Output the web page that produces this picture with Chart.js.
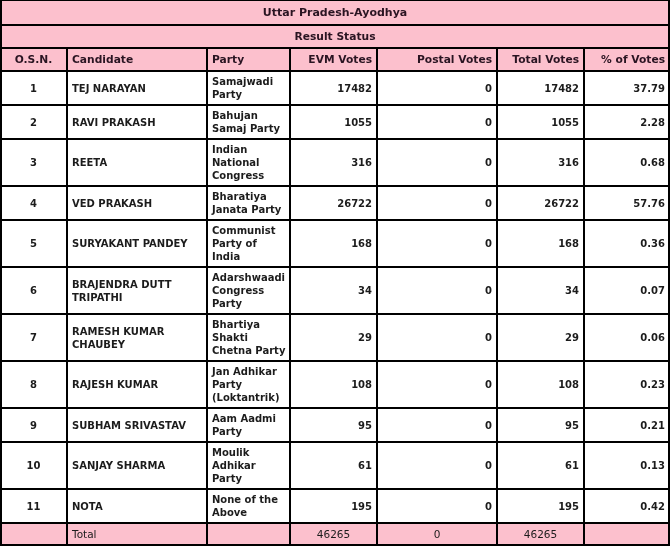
<!DOCTYPE html>
<html>
<head>
<meta charset="utf-8">
<title>Uttar Pradesh-Ayodhya</title>
<script src="https://cdn.jsdelivr.net/npm/chart.js@4.4.0/dist/chart.umd.min.js"></script>
<style>
    html, body { margin: 0; padding: 0; background: #fff; }
    #wrap { width: 670px; height: 547px; }
</style>
</head>
<body>
<div id="wrap"><canvas id="resultTable" width="670" height="547"></canvas></div>
<script>
// result-table.js - Ayodhya result status, drawn on a Chart.js canvas

const tableTitle = 'Uttar Pradesh-Ayodhya';
const tableSubtitle = 'Result Status';
const headers = ['O.S.N.', 'Candidate', 'Party', 'EVM Votes', 'Postal Votes', 'Total Votes', '% of Votes'];

const osn = [1, 2, 3, 4, 5, 6, 7, 8, 9, 10, 11];
const candidates = [
    'TEJ NARAYAN', 'RAVI PRAKASH', 'REETA', 'VED PRAKASH', 'SURYAKANT PANDEY',
    'BRAJENDRA DUTT\nTRIPATHI', 'RAMESH KUMAR\nCHAUBEY', 'RAJESH KUMAR',
    'SUBHAM SRIVASTAV', 'SANJAY SHARMA', 'NOTA'
];
const parties = [
    'Samajwadi\nParty', 'Bahujan\nSamaj Party', 'Indian\nNational\nCongress',
    'Bharatiya\nJanata Party', 'Communist\nParty of\nIndia', 'Adarshwaadi\nCongress\nParty',
    'Bhartiya\nShakti\nChetna Party', 'Jan Adhikar\nParty\n(Loktantrik)', 'Aam Aadmi\nParty',
    'Moulik\nAdhikar\nParty', 'None of the\nAbove'
];
const evmVotes = [17482, 1055, 316, 26722, 168, 34, 29, 108, 95, 61, 195];
const postalVotes = [0, 0, 0, 0, 0, 0, 0, 0, 0, 0, 0];
const totalVotes = [17482, 1055, 316, 26722, 168, 34, 29, 108, 95, 61, 195];
const votePercent = [37.79, 2.28, 0.68, 57.76, 0.36, 0.07, 0.06, 0.23, 0.21, 0.13, 0.42];
const totalsRow = ['', 'Total', '', '46265', '0', '46265', ''];

// layout
const colWidths = [67, 140, 83, 87, 120, 87, 86];
const TABLE_W = 670;
const TABLE_H = 547;
const LINE_H = 13;
const CELL_PAD = 8;
const PINK = '#fcc0cd';
const INK = '#1c1c1c';
const HEAD_INK = '#2a1422';
const FONT = '"DejaVu Sans", Verdana, sans-serif';

const colEdges = colWidths.reduce((acc, w) => { acc.push(acc[acc.length - 1] + w); return acc; }, [0]);

function buildRows() {
    const rows = [];
    rows.push({ kind: 'title', text: tableTitle, h: 25, font: 'bold 11px ' + FONT });
    rows.push({ kind: 'title', text: tableSubtitle, h: 23, font: 'bold 10.7px ' + FONT });
    rows.push({ kind: 'header', cells: headers, h: 23 });
    osn.forEach((n, i) => {
        const cells = [
            String(n), candidates[i], parties[i],
            String(evmVotes[i]), String(postalVotes[i]), String(totalVotes[i]),
            votePercent[i].toFixed(2)
        ];
        const lines = Math.max(...cells.map(c => c.split('\n').length), 2);
        rows.push({ kind: 'data', cells, h: lines * LINE_H + CELL_PAD });
    });
    rows.push({ kind: 'total', cells: totalsRow, h: 23 });
    let top = 0;
    rows.forEach(r => { r.top = top; top += r.h; });
    return rows;
}

const alignBody = ['center', 'left', 'left', 'right', 'right', 'right', 'right'];
const alignTotal = ['left', 'left', 'left', 'center', 'center', 'center', 'center'];

const tablePlugin = {
    id: 'resultTable',
    afterDraw(chart) {
        const { ctx, scales: { x, y } } = chart;
        const px = v => x.getPixelForValue(v);
        const py = v => y.getPixelForValue(v);
        const rows = buildRows();

        ctx.save();
        ctx.textBaseline = 'middle';

        rows.forEach(r => {
            const y0 = py(r.top), y1 = py(r.top + r.h);
            ctx.fillStyle = r.kind === 'data' ? '#ffffff' : PINK;
            ctx.fillRect(px(0), y0, px(TABLE_W) - px(0), y1 - y0);

            if (r.kind === 'title') {
                ctx.fillStyle = HEAD_INK;
                ctx.font = r.font;
                ctx.textAlign = 'center';
                ctx.fillText(r.text, px(TABLE_W / 2), (y0 + y1) / 2 + 1);
                return;
            }
            if (r.kind === 'header') {
                ctx.fillStyle = HEAD_INK;
                ctx.font = 'bold 10.7px ' + FONT;
            } else if (r.kind === 'total') {
                ctx.fillStyle = INK;
                ctx.font = '10.5px ' + FONT;
            } else {
                ctx.fillStyle = INK;
                ctx.font = 'bold 10px ' + FONT;
            }
            const aligns = r.kind === 'total' ? alignTotal : alignBody;
            r.cells.forEach((txt, c) => {
                if (!txt) return;
                const left = px(colEdges[c]), right = px(colEdges[c + 1]);
                const align = aligns[c];
                let tx;
                if (align === 'left') tx = left + 5;
                else if (align === 'right') tx = right - 5;
                else tx = (left + right) / 2;
                ctx.textAlign = align;
                const lines = txt.split('\n');
                const mid = (y0 + y1) / 2 + 1;
                lines.forEach((ln, k) => {
                    ctx.fillText(ln, tx, mid + (k - (lines.length - 1) / 2) * LINE_H);
                });
            });
        });

        // grid lines
        ctx.strokeStyle = '#000';
        ctx.lineWidth = 2;
        ctx.beginPath();
        rows.forEach(r => {
            const yy = py(r.top);
            ctx.moveTo(px(0), yy);
            ctx.lineTo(px(TABLE_W), yy);
        });
        const last = rows[rows.length - 1];
        const bottom = py(last.top + last.h) - 1;
        ctx.moveTo(px(0), bottom);
        ctx.lineTo(px(TABLE_W), bottom);
        const gridTop = py(rows[2].top);
        colEdges.slice(1, -1).forEach(e => {
            ctx.moveTo(px(e), gridTop);
            ctx.lineTo(px(e), bottom);
        });
        ctx.moveTo(px(0) + 1, py(0));
        ctx.lineTo(px(0) + 1, bottom);
        ctx.moveTo(px(TABLE_W) - 1, py(0));
        ctx.lineTo(px(TABLE_W) - 1, bottom);
        ctx.stroke();
        ctx.restore();
    }
};

new Chart(document.getElementById('resultTable'), {
    type: 'scatter',
    data: { datasets: [] },
    options: {
        responsive: false,
        animation: false,
        events: [],
        layout: { padding: 0 },
        plugins: {
            legend: { display: false },
            tooltip: { enabled: false }
        },
        scales: {
            x: { type: 'linear', min: 0, max: TABLE_W, display: false },
            y: { type: 'linear', min: 0, max: TABLE_H, reverse: true, display: false }
        }
    },
    plugins: [tablePlugin]
});
</script>
</body>
</html>
